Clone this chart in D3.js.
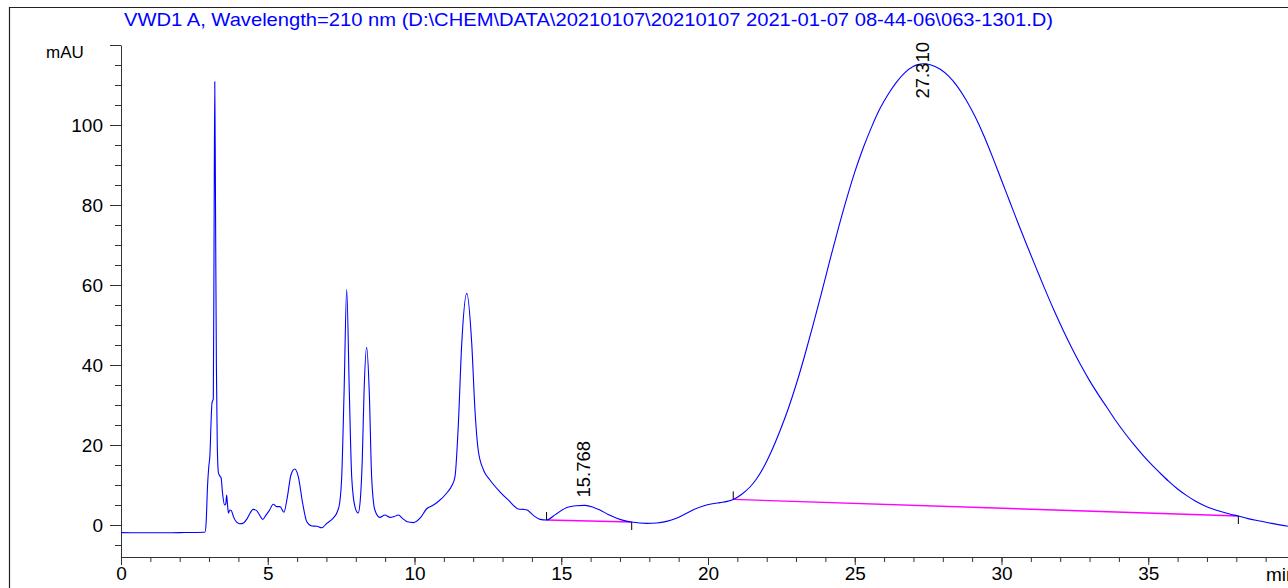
<!DOCTYPE html>
<html>
<head>
<meta charset="utf-8">
<script src="https://cdn.jsdelivr.net/npm/d3@7"></script>
<style>
  body { margin: 0; background: #fff; }
  text { font-family: "Liberation Sans", Arial, sans-serif; }
</style>
</head>
<body>
<script>
var width = 1288, height = 588;

var title = "VWD1 A, Wavelength=210 nm (D:\\CHEM\\DATA\\20210107\\20210107 2021-01-07 08-44-06\\063-1301.D)";

// retention time (min) and signal (mAU)
var times = [0, 1, 2, 2.86, 2.9, 2.95, 2.99, 3.03, 3.07, 3.1, 3.13, 3.145, 3.17, 3.195, 3.22, 3.25, 3.28, 3.32, 3.37, 3.41,
  3.46, 3.53, 3.57, 3.6, 3.63, 3.66, 3.71, 3.76, 3.83, 3.94, 4.05, 4.15, 4.28, 4.4, 4.5, 4.62, 4.72, 4.83, 4.95, 5.05,
  5.19, 5.3, 5.42, 5.55, 5.67, 5.79, 5.92, 6.04, 6.19, 6.33, 6.5, 6.67, 6.84, 7.01, 7.23, 7.38, 7.45, 7.52, 7.6, 7.69,
  7.78, 7.86, 7.97, 8.08, 8.15, 8.22, 8.28, 8.37, 8.46, 8.54, 8.65, 8.82, 8.99, 9.17, 9.3, 9.45, 9.6, 9.75, 9.96, 10.19,
  10.41, 10.6, 10.8, 11.1, 11.27, 11.38, 11.49, 11.61, 11.78, 11.95, 12.06, 12.17, 12.35, 12.57, 12.91, 13.2, 13.54, 13.7, 13.82, 14.05,
  14.28, 14.5, 14.8, 15.19, 15.5, 15.81, 16.1, 16.32, 16.6, 16.89, 17.15, 17.4, 17.91, 18.25, 18.59, 18.9, 19.16, 19.5, 19.84, 20.15,
  20.41, 20.65, 20.86, 21.15, 21.43, 21.65, 21.9, 22.15, 22.45, 22.74, 23.02, 23.3, 23.59, 23.87, 24.16, 24.45, 24.73, 25, 25.29, 25.58,
  25.86, 26.15, 26.43, 26.71, 26.99, 27.15, 27.34, 27.6, 27.9, 28.2, 28.5, 28.8, 29.1, 29.4, 29.7, 30, 30.3, 30.6, 30.9, 31.2,
  31.5, 31.8, 32.1, 32.4, 32.7, 33, 33.3, 33.6, 33.9, 34.2, 34.5, 34.8, 35.1, 35.4, 35.7, 36, 36.3, 36.6, 36.9, 37.2,
  37.5, 37.8, 38.07, 38.4, 38.8, 39.2, 39.76];
var mAU = [-1.9, -1.95, -1.9, -1.8, 0.5, 10, 14.5, 17.5, 26, 30.5, 31.2, 31.5, 70, 110.8, 80, 40, 20, 13, 12.2, 11.8,
  7.9, 5, 5.3, 7.5, 5, 3, 3.75, 3.6, 2.1, 0.7, 0.3, 0.4, 1.4, 3, 3.9, 3.6, 2.5, 1.4, 2.6, 3.6,
  5.2, 4.6, 4.6, 3.2, 7.1, 12.5, 14, 12.1, 5.4, 0.8, -0.25, -0.3, -0.7, 0.4, 1.7, 3.5, 5.5, 12, 33, 58.9,
  33, 12.1, 4.6, 3, 6, 16.2, 33, 44.4, 33, 12, 3.75, 1.9, 2.5, 1.9, 2.1, 2.5, 1.6, 0.8, 0.6, 1.7,
  4, 4.8, 5.8, 8, 9.8, 12.1, 24.6, 45.4, 57.9, 45.4, 28.75, 18.75, 13.75, 11.25, 8.3, 6.2, 4, 3.9, 3.8, 2.4,
  1.4, 1.25, 2.6, 4.4, 4.8, 4.9, 4.4, 3.75, 2.6, 1.7, 1.1, 0.75, 0.4, 0.5, 0.9, 1.6, 2.5, 3.8, 4.75, 5.3,
  5.6, 5.9, 6.4, 7.7, 9.5, 11.5, 14.5, 18.25, 23.5, 29.2, 35.5, 42.5, 50.3, 58.1, 66.4, 74.4, 81.7, 88.2, 94.3, 99.6,
  104.1, 107.8, 110.8, 113.1, 114.6, 115.1, 115.3, 115, 114, 112.2, 109.6, 106.2, 102.1, 97.3, 91.9, 86.2, 80.5, 74.8, 69.3, 63.9,
  58.6, 53.5, 48.7, 44.2, 40, 36.1, 32.6, 29.3, 26, 23, 20.2, 17.6, 15.2, 13, 10.9, 9, 7.4, 6, 4.9, 4,
  3.3, 2.7, 2.25, 1.6, 1, 0.4, -0.3];

// integration baselines: [time, mAU] at start and end of each peak
var baseStart = [[14.5, 1.25], [20.86, 6.4]];
var baseEnd = [[17.4, 0.75], [38.07, 2.25]];

// labelled peaks
var peakTimes = [15.768, 27.310];
var peakLabels = ["15.768", "27.310"];

var xMajor = d3.range(0, 36, 5);
var xMinor = d3.range(0, 40, 1);
var yMajor = [0, 20, 40, 60, 80, 100, 120];
var yMinor = d3.range(-5, 121, 5);

var svg = d3
    .select("body")
    .append("svg")
    .attr("width", width)
    .attr("height", height);

var x = d3.scaleLinear().domain([0, 40]).range([121, 121 + 40 * 29.35]);
var y = d3.scaleLinear().domain([-8, 120]).range([557, 45]);

// outer frame
svg.append("line").attr("x1", 9.5).attr("x2", 9.5).attr("y1", 7).attr("y2", height)
    .attr("stroke", "#222").attr("stroke-width", 1.2);
svg.append("line").attr("x1", 9).attr("x2", width).attr("y1", 7.5).attr("y2", 7.5)
    .attr("stroke", "#222").attr("stroke-width", 1.2);

svg.append("text")
    .attr("x", 124)
    .attr("y", 26)
    .attr("fill", "#0000ff")
    .attr("textLength", 929)
    .attr("lengthAdjust", "spacingAndGlyphs")
    .style("font-size", "19px")
    .text(title);

// axes
function styleAxis(g) {
    g.selectAll("path,line").attr("stroke", "#333");
    g.selectAll("text").attr("fill", "#000").style("font-size", "19px").style("font-family", "Liberation Sans, Arial, sans-serif");
}

svg.append("g").attr("transform", "translate(0,557)")
    .call(d3.axisBottom(x).tickValues(xMinor).tickSize(5).tickSizeOuter(0).tickFormat(""))
    .call(styleAxis);
svg.append("g").attr("transform", "translate(0,557)")
    .call(d3.axisBottom(x).tickValues(xMajor).tickSize(8).tickSizeOuter(0).tickPadding(2))
    .call(styleAxis)
    .call(function (g) { g.select(".domain").remove(); });

svg.append("g").attr("transform", "translate(121,0)")
    .call(d3.axisLeft(y).tickValues(yMinor).tickSize(6).tickSizeOuter(0).tickFormat(""))
    .call(styleAxis);
svg.append("g").attr("transform", "translate(121,0)")
    .call(d3.axisLeft(y).tickValues(yMajor).tickSize(11).tickSizeOuter(0).tickPadding(7)
        .tickFormat(function (d) { return d == 120 ? "" : d; }))
    .call(styleAxis)
    .call(function (g) { g.select(".domain").remove(); });

svg.append("text").attr("x", 46).attr("y", 58).style("font-size", "17px").text("mAU");
svg.append("text").attr("x", 1266).attr("y", 581).style("font-size", "19px").text("min");

// baselines
var baseData = baseStart.map(function (s, i) { return [s, baseEnd[i]]; });
svg.selectAll(".base")
    .data(baseData)
    .enter()
    .append("line")
    .attr("x1", function (d) { return x(d[0][0]); })
    .attr("y1", function (d) { return y(d[0][1]); })
    .attr("x2", function (d) { return x(d[1][0]); })
    .attr("y2", function (d) { return y(d[1][1]); })
    .attr("stroke", "#ff00ff")
    .attr("stroke-width", 1.4);

// start / end marks
svg.selectAll(".smark").data(baseStart).enter().append("line")
    .attr("x1", function (d) { return x(d[0]); }).attr("x2", function (d) { return x(d[0]); })
    .attr("y1", function (d) { return y(d[1]); }).attr("y2", function (d) { return y(d[1]) - 8; })
    .attr("stroke", "#000").attr("stroke-width", 1);
svg.selectAll(".emark").data(baseEnd).enter().append("line")
    .attr("x1", function (d) { return x(d[0]); }).attr("x2", function (d) { return x(d[0]); })
    .attr("y1", function (d) { return y(d[1]); }).attr("y2", function (d) { return y(d[1]) + 8; })
    .attr("stroke", "#000").attr("stroke-width", 1);

// trace
var pts = times.map(function (t, i) { return [t, mAU[i]]; });
var line = d3.line()
    .x(function (d) { return x(d[0]); })
    .y(function (d) { return y(d[1]); })
    .curve(d3.curveMonotoneX);

svg.append("path")
    .datum(pts)
    .attr("d", line)
    .attr("fill", "none")
    .attr("stroke", "#0000ff")
    .attr("stroke-width", 1.1);

// retention time labels, kept inside the plot top
var valueAt = d3.scaleLinear().domain(times).range(mAU);
peakTimes.forEach(function (rt, i) {
    var px = x(rt);
    var lbl = svg.append("text")
        .style("font-size", "18.5px")
        .attr("fill", "#000")
        .text(peakLabels[i]);
    var len = lbl.node().getComputedTextLength();
    var start = Math.max(y(valueAt(rt)) - 8, y(120) - 3 + len);
    lbl.attr("transform", "translate(" + px + "," + start + ") rotate(-90)")
        .attr("dy", "0.35em");
});
</script>
</body>
</html>
